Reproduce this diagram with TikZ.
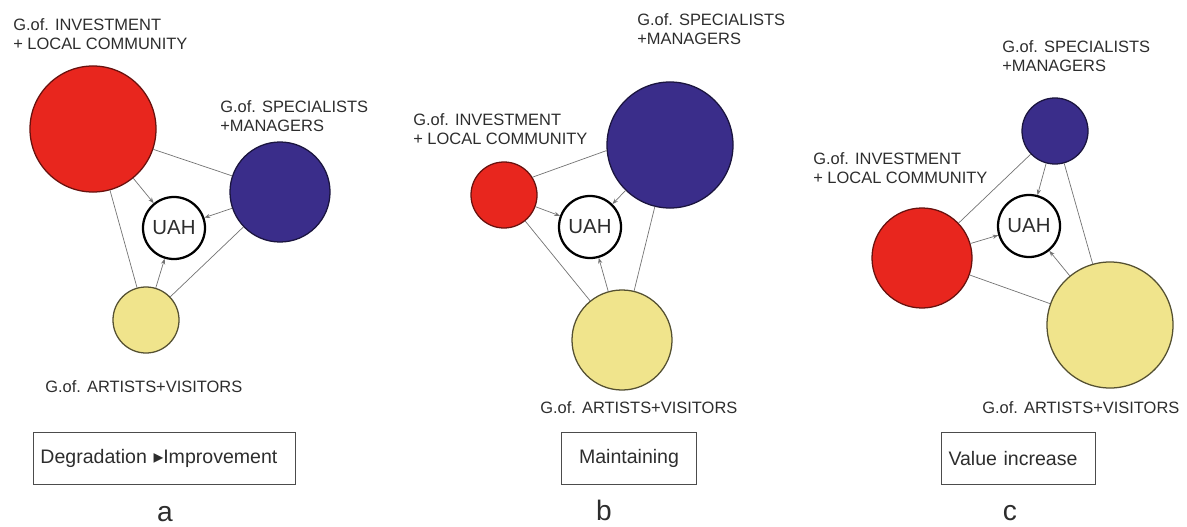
\documentclass[tikz,border=0pt]{standalone}
\usepackage{fontspec}
\setmainfont{Liberation Sans}
\newfontfamily\symfont{DejaVu Sans}
\usetikzlibrary{arrows.meta}

\definecolor{invred}{RGB}{232,38,30}
\definecolor{specblue}{RGB}{58,45,138}
\definecolor{artyellow}{RGB}{240,228,140}
\definecolor{inktext}{RGB}{45,45,45}

\begin{document}
\begin{tikzpicture}[
      x=0.025cm, y=-0.025cm,
      group/.style={circle, line width=0.9pt, inner sep=0pt},
      invest/.style={group, fill=invred, draw=invred!45!black},
      expert/.style={group, fill=specblue, draw=specblue!45!black},
      artist/.style={group, fill=artyellow, draw=artyellow!35!black},
      bigc/.style={minimum size=3.15cm},
      midc/.style={minimum size=2.5cm},
      smallc/.style={minimum size=1.65cm},
      hub/.style={circle, draw=black, line width=1.6pt, fill=white, minimum size=1.55cm, inner sep=0pt, text=inktext, font=\fontsize{14.5}{16}\selectfont},
      grouplabel/.style={anchor=north west, inner sep=0pt, align=left, text=inktext, font=\fontsize{11.7}{13.5}\selectfont},
      link/.style={draw=black!55, line width=0.5pt},
      flow/.style={link, -{Stealth[length=4pt, width=3pt]}},
      trend/.style={draw=black!70, line width=0.7pt, minimum height=1.32cm, inner xsep=0.175cm, anchor=west, text=inktext, font=\fontsize{13.9}{16}\selectfont},
      panel/.style={anchor=base, text=inktext, font=\fontsize{20}{24}\selectfont}
  ]
      \useasboundingbox (0,0) rectangle (1187,526);

      % Panel a: degradation
      \node[invest, bigc] (ia) at (93,129) {};
      \node[expert, midc] (sa) at (280,192) {};
      \node[artist, smallc] (aa) at (146,320) {};
      \node[hub] (ua) at (174,228) {UAH};
      \draw[link] (ia) -- (sa);
      \draw[link] (ia) -- (aa);
      \draw[link] (sa) -- (aa);
      \draw[flow] (ia) -- (ua);
      \draw[flow] (sa) -- (ua);
      \draw[flow] (aa) -- (ua);
      \node[grouplabel] (lia) at (13,18) {G.of. INVESTMENT\\+ LOCAL COMMUNITY};
      \node[grouplabel] (lsa) at (220,100) {G.of. SPECIALISTS\\+MANAGERS};
      \node[grouplabel] (laa) at (45,380) {G.of. ARTISTS+VISITORS};
      \node[trend, text width=6.2cm, align=left] (ta) at (33,458.5) {Degradation {\symfont ▸}Improvement};
      \node[panel] (pa) at (165,521) {a};

      % Panel b: maintaining
      \node[invest, smallc] (ib) at (504,195) {};
      \node[expert, bigc] (sb) at (670,145) {};
      \node[artist, midc] (ab) at (622,340) {};
      \node[hub] (ub) at (590,227) {UAH};
      \draw[link] (ib.32) -- (sb.185);
      \draw[link] (ib) -- (ab);
      \draw[link] (sb) -- (ab);
      \draw[flow] (ib) -- (ub);
      \draw[flow] (sb) -- (ub);
      \draw[flow] (ab) -- (ub);
      \node[grouplabel] (lib) at (413,113) {G.of. INVESTMENT\\+ LOCAL COMMUNITY};
      \node[grouplabel] (lsb) at (637,13) {G.of. SPECIALISTS\\+MANAGERS};
      \node[grouplabel] (lab) at (540,401) {G.of. ARTISTS+VISITORS};
      \node[trend, text width=3.025cm, align=center] (tb) at (561,458.5) {Maintaining};
      \node[panel] (pb) at (604,520) {b};

      % Panel c: value increase
      \node[invest, midc] (ic) at (922,258) {};
      \node[expert, smallc] (sc) at (1055,131) {};
      \node[artist, bigc] (ac) at (1110,325) {};
      \node[hub] (uc) at (1029,226) {UAH};
      \draw[link] (ic) -- (sc);
      \draw[link] (ic) -- (ac);
      \draw[link] (sc) -- (ac);
      \draw[flow] (ic) -- (uc);
      \draw[flow] (sc) -- (uc);
      \draw[flow] (ac) -- (uc);
      \node[grouplabel] (lic) at (813,152) {G.of. INVESTMENT\\+ LOCAL COMMUNITY};
      \node[grouplabel] (lsc) at (1002,40) {G.of. SPECIALISTS\\+MANAGERS};
      \node[grouplabel] (lac) at (982,401) {G.of. ARTISTS+VISITORS};
      \node[trend, text width=3.5cm, align=left] (tc) at (941,458.5) {Value increase};
      \node[panel] (pc) at (1010,520) {c};

  \end{tikzpicture}
\end{document}
